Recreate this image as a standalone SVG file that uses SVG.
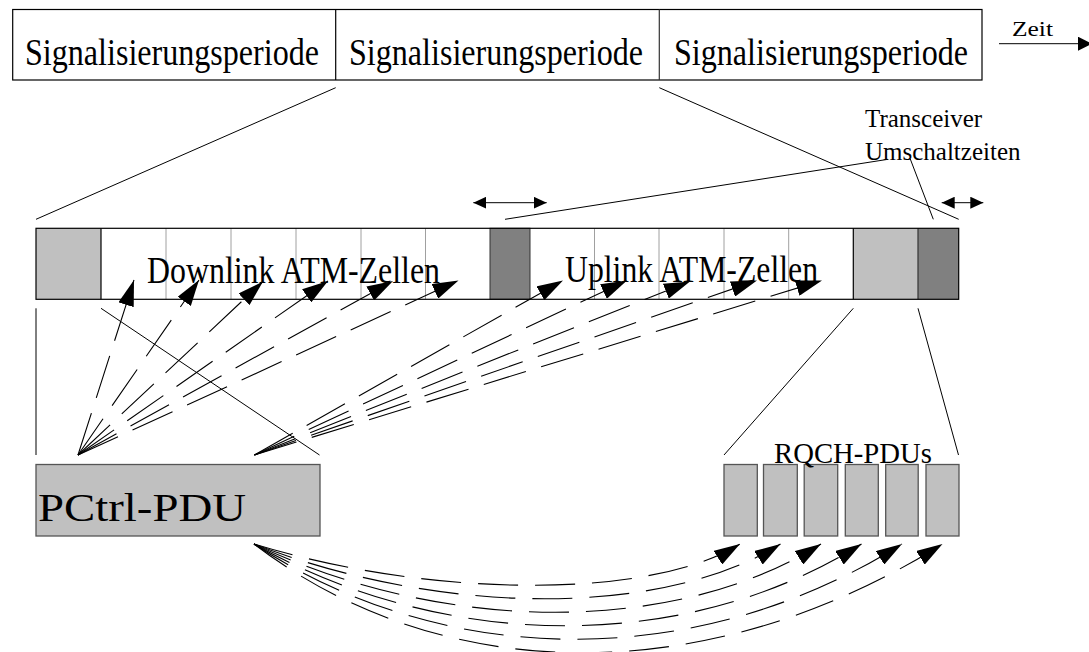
<svg xmlns="http://www.w3.org/2000/svg" width="1089" height="652" viewBox="0 0 1089 652">
  <style>
    .lbl { font-family: "Liberation Serif", "Times New Roman", serif; fill: #000; }
    .edge { stroke: #000; stroke-width: 1.2; fill: none; }
    .thin { stroke: #000; stroke-width: 1; fill: none; }
    .cell { stroke: #a0a0a0; stroke-width: 1; }
    .dash { stroke: #000; stroke-width: 1.1; fill: none; stroke-dasharray: 44 16; }
    .dash2 { stroke: #000; stroke-width: 1.1; fill: none; stroke-dasharray: 40 17; }
    .light { fill: #c0c0c0; }
    .dark { fill: #808080; }
  </style>
  <defs>
    <marker id="dart" markerUnits="userSpaceOnUse" markerWidth="27" markerHeight="16" refX="26" refY="8" orient="auto">
      <path d="M0,0 L26,8 L0,16 z" fill="#000"/>
    </marker>
    <marker id="tip" markerUnits="userSpaceOnUse" markerWidth="14" markerHeight="12" refX="13" refY="6" orient="auto-start-reverse">
      <path d="M0,0 L13,6 L0,12 z" fill="#000"/>
    </marker>
    <marker id="timehead" markerUnits="userSpaceOnUse" markerWidth="15" markerHeight="14" refX="14" refY="7" orient="auto">
      <path d="M0,0 L14,7 L0,14 z" fill="#000"/>
    </marker>
  </defs>

  <rect width="1089" height="652" fill="#fff"/>

  <!-- time axis: three signalling periods -->
  <g id="periods">
    <rect x="12.7" y="9.5" width="969.3" height="70.5" fill="#fff" stroke="#000" stroke-width="1.2"/>
    <line x1="335.7" y1="9.5" x2="335.7" y2="80" stroke="#000" stroke-width="1.2"/>
    <line x1="659.3" y1="9.5" x2="659.3" y2="80" stroke="#333" stroke-width="1.2"/>
    <text class="lbl" x="25" y="65" font-size="37" textLength="294" lengthAdjust="spacingAndGlyphs">Signalisierungsperiode</text>
    <text class="lbl" x="349" y="65" font-size="37" textLength="294" lengthAdjust="spacingAndGlyphs">Signalisierungsperiode</text>
    <text class="lbl" x="674" y="65" font-size="37" textLength="294" lengthAdjust="spacingAndGlyphs">Signalisierungsperiode</text>
  </g>

  <g id="time-arrow">
    <line x1="999" y1="43.7" x2="1092" y2="43.7" class="thin" marker-end="url(#timehead)"/>
    <text class="lbl" x="1012" y="36" font-size="22" textLength="41" lengthAdjust="spacingAndGlyphs">Zeit</text>
  </g>

  <!-- one period in detail -->
  <g id="frame">
    <rect x="36" y="228.3" width="922.7" height="71" fill="#fff"/>
    <rect class="light" x="36" y="228.3" width="65" height="71"/>
    <g class="cell">
      <line x1="166" y1="228.3" x2="166" y2="299.3"/>
      <line x1="231" y1="228.3" x2="231" y2="299.3"/>
      <line x1="296" y1="228.3" x2="296" y2="299.3"/>
      <line x1="361" y1="228.3" x2="361" y2="299.3"/>
      <line x1="425.5" y1="228.3" x2="425.5" y2="299.3"/>
      <line x1="594.5" y1="228.3" x2="594.5" y2="299.3"/>
      <line x1="659" y1="228.3" x2="659" y2="299.3"/>
      <line x1="724" y1="228.3" x2="724" y2="299.3"/>
      <line x1="788.7" y1="228.3" x2="788.7" y2="299.3"/>
    </g>
    <rect class="dark" x="490" y="228.3" width="40" height="71" stroke="#333" stroke-width="1"/>
    <rect class="light" x="853.3" y="228.3" width="64.7" height="71"/>
    <rect class="dark" x="918" y="228.3" width="40.7" height="71"/>
    <line x1="101" y1="228.3" x2="101" y2="299.3" stroke="#000" stroke-width="1.2"/>
    <line x1="853.3" y1="228.3" x2="853.3" y2="299.3" stroke="#000" stroke-width="1.2"/>
    <line x1="918" y1="228.3" x2="918" y2="299.3" stroke="#333" stroke-width="1.2"/>
    <rect x="36" y="228.3" width="922.7" height="71" class="edge"/>
    <text class="lbl" x="147" y="283" font-size="37" textLength="293" lengthAdjust="spacingAndGlyphs">Downlink ATM-Zellen</text>
    <text class="lbl" x="565" y="282" font-size="37" textLength="253" lengthAdjust="spacingAndGlyphs">Uplink ATM-Zellen</text>
  </g>

  <g id="switching-times">
    <text class="lbl" x="865" y="127" font-size="25">Transceiver</text>
    <text class="lbl" x="865" y="160" font-size="25">Umschaltzeiten</text>
  </g>

  <g id="pctrl-pdu">
    <rect x="36" y="464.5" width="284" height="71.5" fill="#c0c0c0" stroke="#555" stroke-width="1.3"/>
    <text class="lbl" x="38" y="521" font-size="39" textLength="208" lengthAdjust="spacingAndGlyphs">PCtrl-PDU</text>
  </g>

  <g id="rqch-pdus">
    <g fill="#c0c0c0" stroke="#555" stroke-width="1.3">
      <rect x="724" y="464.5" width="33.3" height="71.5"/>
      <rect x="763.5" y="464.5" width="33.8" height="71.5"/>
      <rect x="804.2" y="464.5" width="33.5" height="71.5"/>
      <rect x="845.3" y="464.5" width="33" height="71.5"/>
      <rect x="885.7" y="464.5" width="32.5" height="71.5"/>
      <rect x="926" y="464.5" width="33" height="71.5"/>
    </g>
    <text class="lbl" x="774" y="463" font-size="30" textLength="158" lengthAdjust="spacingAndGlyphs">RQCH-PDUs</text>
  </g>

  <g id="connectors">
    <!-- zoom lines from the middle period down to the frame -->
    <line class="thin" x1="335.7" y1="87.7" x2="36" y2="219.3"/>
    <line class="thin" x1="659.3" y1="87.7" x2="958.7" y2="219.3"/>
    <!-- switching-time callouts -->
    <line class="thin" x1="505" y1="219.3" x2="888" y2="159.3"/>
    <line class="thin" x1="910" y1="158.3" x2="933.3" y2="219.3"/>
    <line class="thin" x1="473.3" y1="202.7" x2="546.7" y2="202.7" marker-start="url(#tip)" marker-end="url(#tip)"/>
    <line class="thin" x1="941.7" y1="202.7" x2="983.3" y2="202.7" marker-start="url(#tip)" marker-end="url(#tip)"/>
    <!-- frame parts expanded below -->
    <line class="thin" x1="36" y1="308.3" x2="36" y2="455"/>
    <line class="thin" x1="101" y1="308.3" x2="319.5" y2="455"/>
    <line class="thin" x1="853.3" y1="308.3" x2="724" y2="455"/>
    <line class="thin" x1="918" y1="308.3" x2="958.5" y2="455"/>

    <!-- PCtrl-PDU assigns downlink cells -->
    <g marker-end="url(#dart)">
      <line class="dash" x1="78" y1="455" x2="134" y2="280"/>
      <line class="dash" x1="78" y1="455" x2="199" y2="280"/>
      <line class="dash" x1="78" y1="455" x2="263" y2="281.5"/>
      <line class="dash" x1="78" y1="455" x2="328" y2="281"/>
      <line class="dash" x1="78" y1="455" x2="393" y2="281"/>
      <line class="dash" x1="78" y1="455" x2="458.5" y2="280.5"/>
    </g>
    <!-- PCtrl-PDU assigns uplink cells -->
    <g marker-end="url(#dart)">
      <line class="dash" x1="254.4" y1="455" x2="563" y2="280.5"/>
      <line class="dash" x1="254.4" y1="455" x2="627" y2="280.5"/>
      <line class="dash" x1="254.4" y1="455" x2="690" y2="281.5"/>
      <line class="dash" x1="254.4" y1="455" x2="757" y2="280.5"/>
      <line class="dash" x1="254.4" y1="455" x2="822" y2="280.5"/>
    </g>
    <!-- PCtrl-PDU assigns RQCH slots -->
    <g marker-end="url(#dart)">
      <path class="dash2" d="M254,544 C430,598 650,600 740,544"/>
      <path class="dash2" d="M254,544 C440,616 662,618 780.5,544"/>
      <path class="dash2" d="M254,544 C444,634 674,636 821,544"/>
      <path class="dash2" d="M254,544 C446,652 686,654 861.5,544"/>
      <path class="dash2" d="M254,544 C445,670 698,672 902,544"/>
      <path class="dash2" d="M254,544 C442,688 710,690 942.5,544"/>
    </g>
  </g>
</svg>
